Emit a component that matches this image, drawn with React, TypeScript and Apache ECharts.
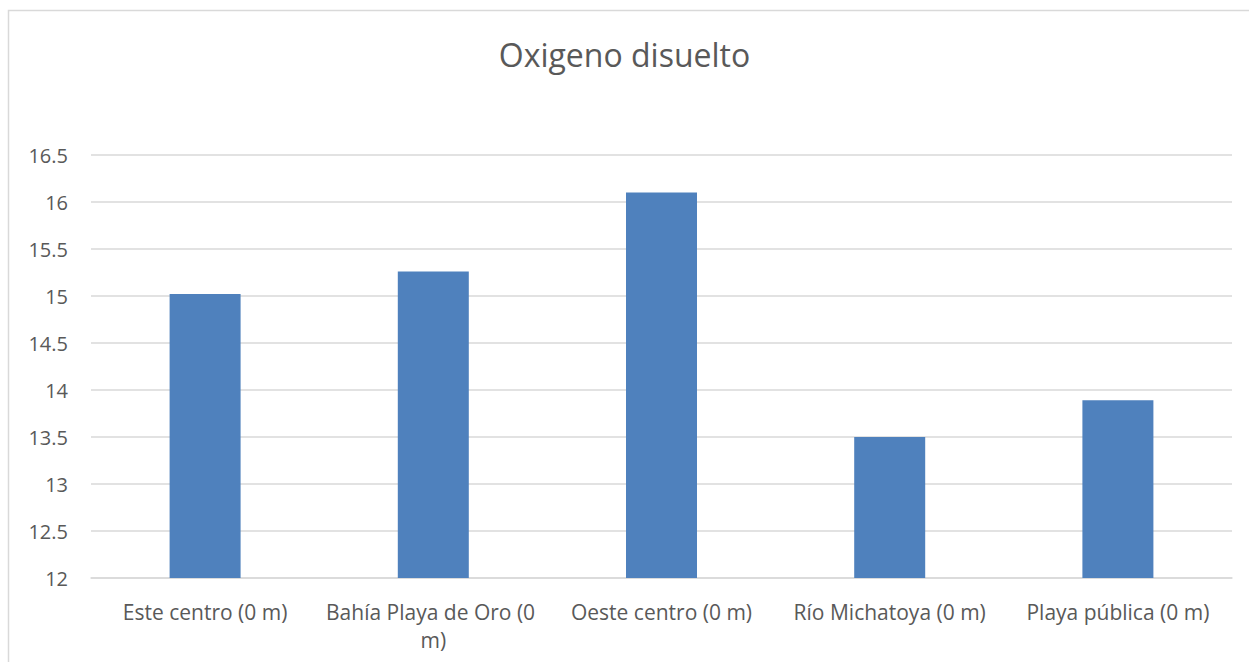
import React, { useEffect, useRef } from "react";
import * as echarts from "echarts";

const categories = [
  "Este centro (0 m)",
  "Bahía Playa de Oro (0 m)",
  "Oeste centro (0 m)",
  "Río Michatoya (0 m)",
  "Playa pública (0 m)",
];
const values = [15.02, 15.26, 16.1, 13.5, 13.89];
const titleText = "Oxigeno disuelto";

export default function App() {
  const ref = useRef<HTMLDivElement>(null);
  useEffect(() => {
    if (!ref.current) return;
    const chart = echarts.init(ref.current, undefined, { renderer: "svg" });
    const font = "'Open Sans', Calibri, sans-serif";
    chart.setOption({
      animation: false,
      backgroundColor: "#ffffff",
      title: {
        text: titleText,
        left: "center",
        top: 33,
        textStyle: { fontFamily: font, fontSize: 32, fontWeight: "normal", color: "#595959" },
      },
      graphic: [
        {
          type: "rect",
          shape: { x: 8.5, y: 10.5, width: 1400, height: 800 },
          style: { fill: "none", stroke: "#d9d9d9", lineWidth: 1.5 },
          silent: true,
        },
      ],
      grid: { left: 91, right: 17, top: 155, bottom: 84 },
      xAxis: {
        type: "category",
        data: categories,
        axisLine: { show: true, lineStyle: { color: "#d9d9d9", width: 1.5 } },
        axisTick: { show: false },
        axisLabel: {
          fontFamily: font,
          fontSize: 21,
          color: "#595959",
          margin: 20,
          interval: 0,
          width: 232,
          overflow: "break",
          lineHeight: 28,
        },
      },
      yAxis: {
        type: "value",
        min: 12,
        max: 16.5,
        interval: 0.5,
        axisLine: { show: false },
        axisTick: { show: false },
        splitLine: { lineStyle: { color: "#d9d9d9", width: 1.5 } },
        axisLabel: {
          fontFamily: font,
          fontSize: 20,
          color: "#595959",
          margin: 23,
        },
      },
      series: [
        {
          type: "bar",
          data: values,
          barWidth: 71,
          itemStyle: { color: "#4f81bd" },
        },
      ],
    });
    return () => chart.dispose();
  }, []);
  return (
    <div
      ref={ref}
      style={{ position: "fixed", left: 0, top: 0, width: 1249, height: 662 }}
    />
  );
}
